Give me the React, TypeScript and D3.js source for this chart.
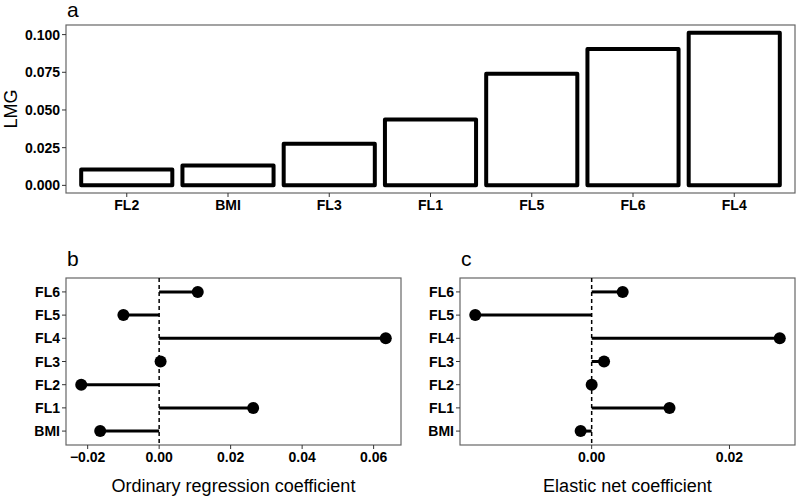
import React from "react";
import * as d3 from "d3";

const lmgCats = ["FL2", "BMI", "FL3", "FL1", "FL5", "FL6", "FL4"];
const lmgValues = [0.0106, 0.0132, 0.0276, 0.0437, 0.074, 0.0904, 0.1013];
const lmgTicks = [0, 0.025, 0.05, 0.075, 0.1];

const coefCats = ["BMI", "FL1", "FL2", "FL3", "FL4", "FL5", "FL6"];
const ordinaryCoef = [-0.0165, 0.0263, -0.0218, 0.0004, 0.0634, -0.01, 0.0108];
const ordinaryTicks = [-0.02, 0, 0.02, 0.04, 0.06];
const elasticCoef = [-0.0016, 0.0113, 0.0, 0.0018, 0.0273, -0.0169, 0.0045];
const elasticTicks = [0, 0.02];

const FONT = "'Liberation Sans', Arial, Helvetica, sans-serif";
const BORDER = "#666";
const TICKC = "#333";

function expand(lo: number, hi: number): [number, number] {
  const r = hi - lo;
  return [lo - 0.05 * r, hi + 0.05 * r];
}

function Lollipop(props: {
  x0: number; x1: number; y0: number; y1: number;
  values: number[]; ticks: number[]; title: string; tag: string;
}) {
  const { x0, x1, y0, y1, values, ticks, title, tag } = props;
  const ext = d3.extent([...values, 0]) as [number, number];
  const x = d3.scaleLinear().domain(expand(ext[0], ext[1])).range([x0, x1]);
  const y = d3.scalePoint<string>().domain(coefCats).range([y1, y0]).padding(0.6);
  const fmt = d3.format(".2f");
  return (
    <g>
      <text x={x0 + 1} y={y0 - 12} fontSize={21} fontFamily={FONT} fill="#000">{tag}</text>
      <rect x={x0} y={y0} width={x1 - x0} height={y1 - y0} fill="white" stroke={BORDER} strokeWidth={1.2} />
      <line x1={x(0)} x2={x(0)} y1={y0} y2={y1} stroke="#000" strokeWidth={1.5} strokeDasharray="4,3" />
      {coefCats.map((c, i) => (
        <g key={c}>
          <line x1={x(0)} x2={x(values[i])} y1={y(c)} y2={y(c)} stroke="#000" strokeWidth={3} />
          <circle cx={x(values[i])} cy={y(c)} r={6} fill="#000" />
        </g>
      ))}
      {coefCats.map((c) => (
        <g key={"yt" + c}>
          <line x1={x0 - 4} x2={x0} y1={y(c)} y2={y(c)} stroke={TICKC} strokeWidth={1} />
          <text x={x0 - 6} y={y(c)} dy="0.36em" textAnchor="end" fontSize={14} fontWeight="bold" fontFamily={FONT} fill="#000">{c}</text>
        </g>
      ))}
      {ticks.map((t) => (
        <g key={"xt" + t}>
          <line x1={x(t)} x2={x(t)} y1={y1} y2={y1 + 4} stroke={TICKC} strokeWidth={1} />
          <text x={x(t)} y={y1 + 17} textAnchor="middle" fontSize={14} fontWeight="bold" fontFamily={FONT} fill="#000">{fmt(t)}</text>
        </g>
      ))}
      <text x={(x0 + x1) / 2} y={y1 + 47} textAnchor="middle" fontSize={18} fontFamily={FONT} fill="#000">{title}</text>
    </g>
  );
}

export default function App() {
  const ax0 = 66, ax1 = 795, ay0 = 25, ay1 = 193;
  const xa = d3.scalePoint<string>().domain(lmgCats).range([ax0, ax1]).padding(0.6);
  const step = xa.step();
  const ya = d3.scaleLinear().domain(expand(0, d3.max(lmgValues) as number)).range([ay1, ay0]);
  const fmt3 = d3.format(".3f");
  return (
    <svg width={798} height={500} style={{ position: "absolute", left: 0, top: 0, background: "white" }}>
      <rect x={0} y={0} width={798} height={500} fill="white" />
      <text x={ax0 + 1} y={17} fontSize={21} fontFamily={FONT} fill="#000">a</text>
      <rect x={ax0} y={ay0} width={ax1 - ax0} height={ay1 - ay0} fill="white" stroke={BORDER} strokeWidth={1.2} />
      {lmgCats.map((c, i) => (
        <rect key={c} x={(xa(c) as number) - 0.45 * step} width={0.9 * step}
          y={ya(lmgValues[i])} height={ya(0) - ya(lmgValues[i])}
          fill="white" stroke="#000" strokeWidth={4} strokeLinejoin="round" />
      ))}
      {lmgTicks.map((t) => (
        <g key={t}>
          <line x1={ax0 - 4} x2={ax0} y1={ya(t)} y2={ya(t)} stroke={TICKC} strokeWidth={1} />
          <text x={ax0 - 6} y={ya(t)} dy="0.36em" textAnchor="end" fontSize={14} fontWeight="bold" fontFamily={FONT} fill="#000">{fmt3(t)}</text>
        </g>
      ))}
      {lmgCats.map((c) => (
        <g key={"x" + c}>
          <line x1={xa(c)} x2={xa(c)} y1={ay1} y2={ay1 + 4} stroke={TICKC} strokeWidth={1} />
          <text x={xa(c)} y={ay1 + 17} textAnchor="middle" fontSize={14} fontWeight="bold" fontFamily={FONT} fill="#000">{c}</text>
        </g>
      ))}
      <text transform={`translate(17,${(ay0 + ay1) / 2}) rotate(-90)`} textAnchor="middle" fontSize={18} fontFamily={FONT} fill="#000">LMG</text>
      <Lollipop x0={66} x1={401} y0={278} y1={445} values={ordinaryCoef} ticks={ordinaryTicks} title="Ordinary regression coefficient" tag="b" />
      <Lollipop x0={460} x1={795} y0={278} y1={445} values={elasticCoef} ticks={elasticTicks} title="Elastic net coefficient" tag="c" />
    </svg>
  );
}
